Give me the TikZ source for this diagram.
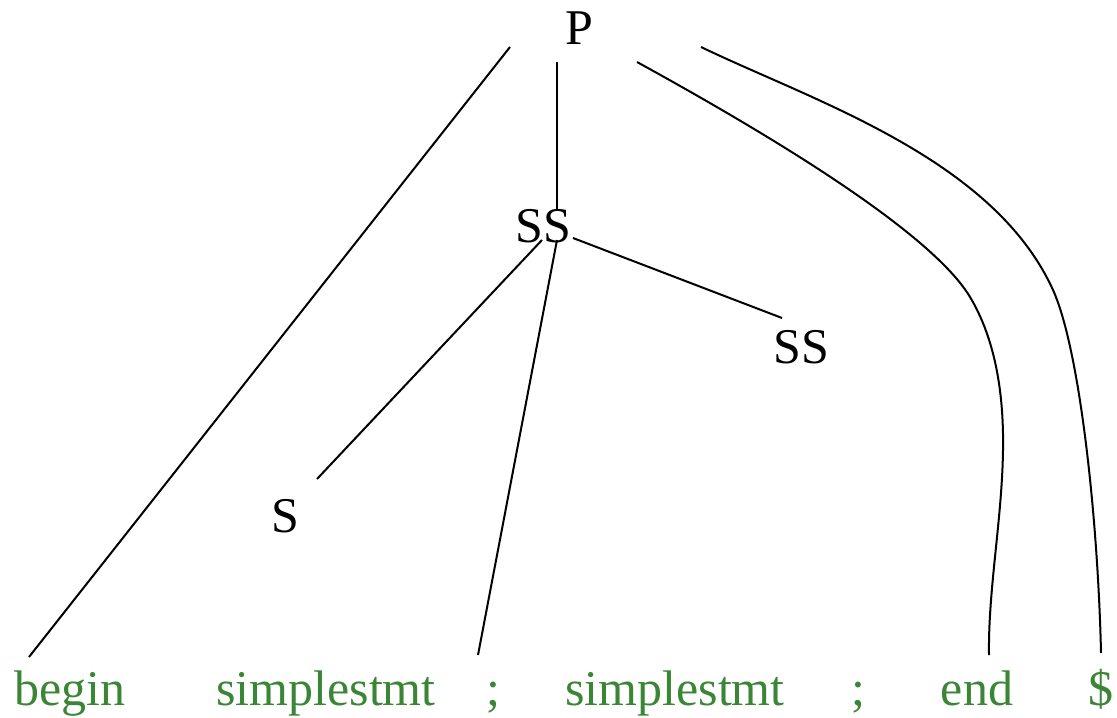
\documentclass[tikz,border=0pt]{standalone}
\usepackage{fontspec}
\setmainfont{Liberation Serif}
\usetikzlibrary{calc}
\definecolor{termgreen}{HTML}{3B8636}
\tikzset{
  nt/.style={anchor=base, inner sep=0pt, font=\fontsize{25}{30}\selectfont, text=black},
  term/.style={anchor=base, inner sep=0pt, font=\fontsize{25}{30}\selectfont, text=termgreen},
  edge/.style={draw=black, line width=1pt}
}
\begin{document}
\begin{tikzpicture}[x=0.5pt, y=-0.5pt]
\useasboundingbox (0,0) rectangle (1117,717);
% nonterminals
\node[nt] (P)   at (579.5,45)  {P};
\node[nt] (SSa) at (543,242)   {SS};
\node[nt] (SSb) at (801,363)   {SS};
\node[nt] (S)   at (285.5,532) {S};
% terminals
\node[term] (tbegin) at (70,705)   {begin};
\node[term] (tsa)    at (326,705)  {simplestmt};
\node[term] (tsc)    at (493,705)  {;};
\node[term] (tsb)    at (675,705)  {simplestmt};
\node[term] (tsd)    at (858,705)  {;};
\node[term] (tend)   at (977,705)  {end};
\node[term] (tdol)   at (1101,705) {\$};
% edges
\draw[edge] ($(P.base)+(-69.5,2)$) -- ($(tbegin.base)+(-41,-48)$);
\draw[edge] ($(P.base)+(-22.5,17)$) -- ($(SSa.base)+(14,-32)$);
\draw[edge] ($(P.base)+(57.5,17)$)
   .. controls (746,122) and (928,227) .. (970,297)
   .. controls (994,337) and (1004,390) .. (1003,450)
   .. controls (1002,520) and (988,590) .. ($(tend.base)+(12,-50)$);
\draw[edge] ($(P.base)+(121.5,2)$)
   .. controls (813,101) and (993,158) .. (1053,290)
   .. controls (1080,350) and (1098,520) .. ($(tdol.base)+(0,-52)$);
\draw[edge] ($(SSa.base)+(-1,-2)$) -- ($(S.base)+(31.5,-53)$);
\draw[edge] ($(SSa.base)+(14,-2)$) -- ($(tsa.base)+(152,-50)$);
\draw[edge] ($(SSa.base)+(30,-4)$) -- ($(SSb.base)+(-19,-45)$);
\end{tikzpicture}
\end{document}
